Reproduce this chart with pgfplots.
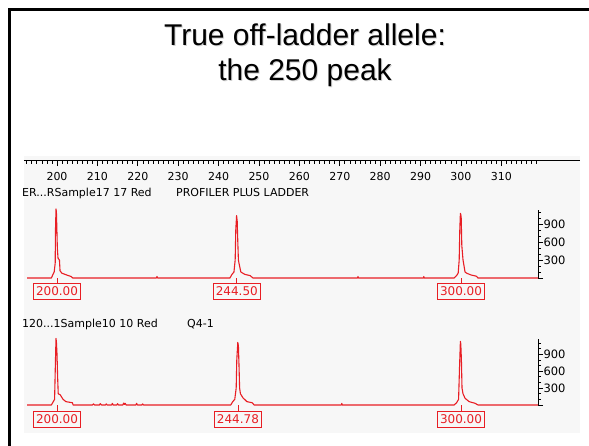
\documentclass[border=0pt]{standalone}
\usepackage{fontspec}
\setmainfont{Liberation Sans}
\newfontfamily\geneva{DejaVu Sans}
\usepackage{pgfplots}
\pgfplotsset{compat=1.18}
\usepackage{pgfplotstable}

\definecolor{tracered}{RGB}{232,30,36}
\definecolor{panelgray}{RGB}{247,247,247}

% ladder sample trace (size in bp, signal in RFU)
\pgfplotstableread{
bp signal
192.57 0
198.6 0
199.0 60
199.3 100
199.55 250
199.62 800
199.75 1150
199.85 1100
199.97 800
200.08 500
200.25 330
200.6 300
200.75 120
201.2 80
202.0 60
202.8 40
203.5 25
203.9 0
224.6 0
224.75 25
224.9 0
242.8 0
243.3 60
243.8 100
244.1 300
244.25 800
244.45 1040
244.6 950
244.75 600
244.9 300
245.05 245
245.5 100
246.5 60
247.8 40
248.5 0
274.4 0
274.5 25
274.6 0
290.7 0
290.8 25
290.9 0
298.3 0
298.9 40
299.3 80
299.55 300
299.7 800
299.85 1077
299.95 1060
300.05 1000
300.2 540
300.5 300
301.0 100
301.4 80
302.5 50
303.8 30
304.2 0
319.06 0
}\ladder

% Q4-1 sample trace
\pgfplotstableread{
bp signal
192.57 0
198.6 0
199.0 50
199.4 100
199.62 800
199.75 1180
199.85 1120
200.0 900
200.15 500
200.3 200
200.8 180
201.5 100
202.2 60
203.0 50
203.8 40
204.0 0
208.8 0
209.0 20
209.3 0
210.5 0
210.7 25
211.0 0
212.0 0
212.2 20
212.4 0
213.5 0
213.7 30
213.9 0
214.8 0
215.0 25
215.2 0
216.3 0
216.5 35
216.7 10
216.9 30
217.1 0
219.5 0
219.7 30
219.9 0
221.0 0
221.2 20
221.4 0
243.0 0
243.5 60
244.0 100
244.35 300
244.5 800
244.75 1110
244.9 1050
245.05 700
245.2 300
245.4 200
246.0 130
247.0 60
248.3 40
248.8 0
270.4 0
270.5 30
270.6 0
298.3 0
298.9 40
299.4 100
299.65 700
299.85 1130
299.95 1080
300.1 800
300.25 300
300.5 200
301.0 120
302.0 60
303.5 30
304.2 0
319.06 0
}\sample

% allele calls
\pgfplotstableread{
bp stub lab
200 -83 200.00
244.5 -83 244.50
300 -83 300.00
}\ladderCalls
\pgfplotstableread{
bp stub lab
200 -100 200.00
244.78 -100 244.78
300 -100 300.00
}\sampleCalls

\pgfplotsset{
  panel/.style={
    scale only axis, anchor=south west, width=511pt,
    xmin=192.57, xmax=319.06, ymin=0,
    axis x line=none, axis y line=right,
    y axis line style={-, line width=0.9pt, black},
    ytick={0,300,600,900}, yticklabels={,300,600,900},
    minor ytick={100,200,400,500,700,800,1000,1100},
    tick align=outside, major tick length=5pt, minor tick length=3pt,
    tick style={black, line width=0.8pt},
    yticklabel style={font=\geneva\fontsize{11.5}{11.5}\selectfont, xshift=-3pt},
    /pgf/number format/assume math mode=true,
    clip=false,
  },
  tracestyle/.style={tracered, line width=1.1pt, line join=round, mark=none},
  callstyle/.style={tracered, line width=0.8pt, ycomb, mark=none,
    nodes near coords, point meta=explicit symbolic,
    every node near coord/.style={anchor=north, draw=tracered, line width=0.8pt,
      text=tracered, font=\geneva\fontsize{12}{12}\selectfont,
      inner xsep=2.5pt, inner ysep=3.4pt}},
}
\tikzset{lbl/.style={anchor=base west, inner sep=0, font=\geneva\fontsize{11}{11}\selectfont}}

\begin{document}
\begin{tikzpicture}[x=1pt,y=1pt]
\useasboundingbox (0,0) rectangle (589,445);
\fill[white] (0,0) rectangle (589,445);
% slide frame
\draw[line width=3pt] (9.5,-5) -- (9.5,435.5) -- (600,435.5);
% title
\foreach \dx/\col in {1/gray!35, 0/black}{
  \node[anchor=base, inner sep=0, text=\col, font=\fontsize{30}{30}\selectfont]
    at (305+\dx,399-\dx) {True off-ladder allele:};
  \node[anchor=base, inner sep=0, text=\col, font=\fontsize{30}{30}\selectfont]
    at (305+\dx,364-\dx) {the 250 peak};
}
% electropherogram window
\fill[panelgray] (24,12) rectangle (580,289);

% size ruler
\begin{axis}[
  at={(24pt,285pt)}, anchor=south west, scale only axis,
  width=556pt, height=5pt,
  xmin=191.83, xmax=329.46, ymin=0, ymax=1,
  axis x line=bottom, axis y line=none,
  x axis line style={-, line width=0.8pt, black},
  xtick={200,210,...,310},
  minor xtick={191.25,192.5,...,318.75},
  tick align=outside, major tick length=6pt, minor tick length=4pt,
  tick style={black, line width=0.7pt},
  xticklabel shift=3pt,
  xticklabel style={font=\geneva\fontsize{11}{11}\selectfont},
  /pgf/number format/assume math mode=true,
  /pgf/number format/1000 sep={},
]
\addplot[draw=none] coordinates {(200,0)};
\end{axis}

\node[lbl] at (22,248) {ER...RSample17 17 Red};
\node[lbl] at (176,248) {PROFILER PLUS LADDER};

\begin{axis}[panel, at={(27pt,167pt)}, ymax=1130, height=67.8pt]
\addplot[tracestyle] table[x=bp, y=signal] {\ladder};
\addplot[callstyle] table[x=bp, y=stub, meta=lab] {\ladderCalls};
\end{axis}

\node[lbl] at (22,118) {120...1Sample10 10 Red};
\node[lbl] at (187,118) {Q4-1};

\begin{axis}[panel, at={(27pt,40pt)}, ymax=1180, height=66.5pt]
\addplot[tracestyle] table[x=bp, y=signal] {\sample};
\addplot[callstyle] table[x=bp, y=stub, meta=lab] {\sampleCalls};
\end{axis}
\end{tikzpicture}
\end{document}
